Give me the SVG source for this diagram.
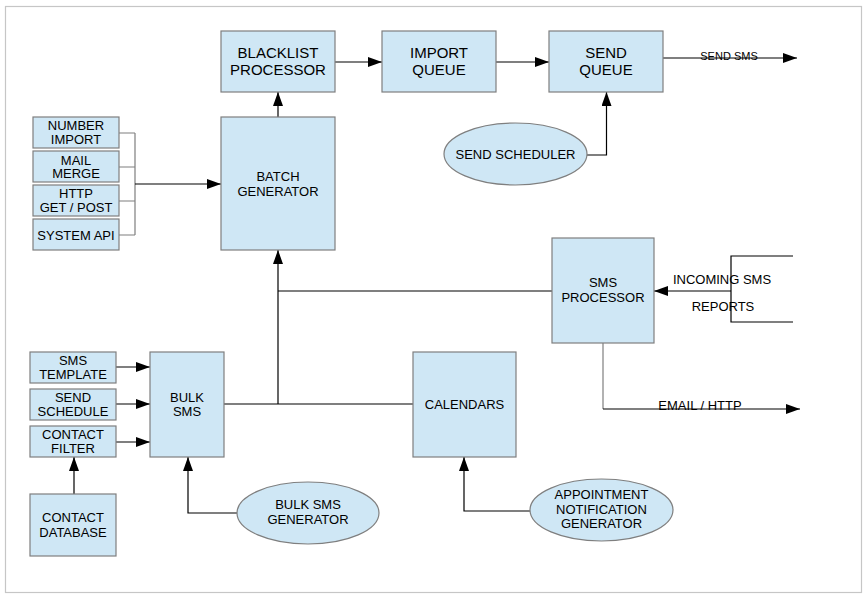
<svg xmlns="http://www.w3.org/2000/svg" width="868" height="600" viewBox="0 0 868 600">
<defs>
<marker id="ah" markerUnits="userSpaceOnUse" markerWidth="14" markerHeight="10" refX="14" refY="5" orient="auto">
<path d="M0,0 L14,5 L0,10 z" fill="#000"/>
</marker>
<style>
.box{fill:#cfe7f5;stroke:#7f7f7f;stroke-width:1.2}
.t{font-family:"Liberation Sans",Arial,sans-serif;fill:#000;text-anchor:middle}
.f15{font-size:15px}
.f13{font-size:13px}
.f11{font-size:11px}
.c{fill:none;stroke:#000;stroke-width:1.2}
.g{fill:none;stroke:#7f7f7f;stroke-width:1.2}
.a{marker-end:url(#ah)}
</style>
</defs>
<rect x="0" y="0" width="868" height="600" fill="#fff"/>
<rect x="5.5" y="6.5" width="856" height="586" fill="none" stroke="#c6c6c6" stroke-width="1.2"/>

<g id="connectors">
<path class="c a" d="M335,62 H382"/>
<path class="c a" d="M496,62 H549"/>
<path class="c a" d="M663,58 H797"/>
<path class="c a" d="M587,155 H606.5 V92"/>
<path class="c a" d="M278,117 V92"/>
<path class="g" d="M119,133 H135 M119,167 H135 M119,201 H135 M119,235 H135 M135,133 V235"/>
<path class="c a" d="M135,184 H221"/>
<path class="c a" d="M116,367 H150"/>
<path class="c a" d="M116,404 H150"/>
<path class="c a" d="M116,442 H150"/>
<path class="c a" d="M74,494 V457"/>
<path class="c a" d="M237,513 H188 V457"/>
<path class="c" d="M224,404 H413"/>
<path class="c a" d="M278,404 V250"/>
<path class="c" d="M278,291 H552"/>
<path class="c a" d="M530,511 H464 V457"/>
<path class="c" d="M793,256 H731 V322 H793"/>
<path class="c a" d="M731,291 H654"/>
<path class="g" d="M603,343 V409"/>
<path class="c a" d="M603,409 H800"/>
<text class="t f11" x="729" y="60">SEND SMS</text>
<text class="t f13" x="722" y="284">INCOMING SMS</text>
<text class="t f13" x="723" y="311">REPORTS</text>
<text class="t f13" x="700" y="410">EMAIL / HTTP</text>
</g>

<g id="blacklist-processor">
<rect class="box" x="221" y="31" width="114" height="61"/>
<text class="t f15" x="278" y="58">BLACKLIST</text>
<text class="t f15" x="278" y="75">PROCESSOR</text>
</g>
<g id="import-queue">
<rect class="box" x="382" y="31" width="114" height="61"/>
<text class="t f15" x="439" y="58">IMPORT</text>
<text class="t f15" x="439" y="75">QUEUE</text>
</g>
<g id="send-queue">
<rect class="box" x="549" y="31" width="114" height="61"/>
<text class="t f15" x="606" y="58">SEND</text>
<text class="t f15" x="606" y="75">QUEUE</text>
</g>
<g id="send-scheduler">
<ellipse class="box" cx="515.5" cy="154" rx="71.5" ry="31"/>
<text class="t f13" x="515.5" y="158.5">SEND SCHEDULER</text>
</g>
<g id="batch-generator">
<rect class="box" x="221" y="117" width="114" height="133"/>
<text class="t f13" x="278" y="180.5">BATCH</text>
<text class="t f13" x="278" y="195.5">GENERATOR</text>
</g>
<g id="number-import">
<rect class="box" x="33" y="117" width="86" height="31"/>
<text class="t f13" x="76" y="130">NUMBER</text>
<text class="t f13" x="76" y="143.5">IMPORT</text>
</g>
<g id="mail-merge">
<rect class="box" x="33" y="151" width="86" height="31"/>
<text class="t f13" x="76" y="164.5">MAIL</text>
<text class="t f13" x="76" y="178">MERGE</text>
</g>
<g id="http-get-post">
<rect class="box" x="33" y="185" width="86" height="31"/>
<text class="t f13" x="76" y="198">HTTP</text>
<text class="t f13" x="76" y="212">GET / POST</text>
</g>
<g id="system-api">
<rect class="box" x="33" y="219" width="86" height="31"/>
<text class="t f13" x="76" y="239.5">SYSTEM API</text>
</g>
<g id="sms-processor">
<rect class="box" x="552" y="238" width="102" height="105"/>
<text class="t f13" x="603" y="287">SMS</text>
<text class="t f13" x="603" y="302">PROCESSOR</text>
</g>
<g id="sms-template">
<rect class="box" x="30" y="352" width="86" height="31"/>
<text class="t f13" x="73" y="364.5">SMS</text>
<text class="t f13" x="73" y="378.5">TEMPLATE</text>
</g>
<g id="send-schedule">
<rect class="box" x="30" y="389" width="86" height="31"/>
<text class="t f13" x="73" y="402">SEND</text>
<text class="t f13" x="73" y="416">SCHEDULE</text>
</g>
<g id="contact-filter">
<rect class="box" x="30" y="426" width="86" height="31"/>
<text class="t f13" x="73" y="439">CONTACT</text>
<text class="t f13" x="73" y="453">FILTER</text>
</g>
<g id="bulk-sms">
<rect class="box" x="150" y="352" width="74" height="105"/>
<text class="t f13" x="187" y="402">BULK</text>
<text class="t f13" x="187" y="416">SMS</text>
</g>
<g id="contact-database">
<rect class="box" x="30" y="494" width="86" height="62"/>
<text class="t f13" x="73" y="522">CONTACT</text>
<text class="t f13" x="73" y="537">DATABASE</text>
</g>
<g id="bulk-sms-generator">
<ellipse class="box" cx="308" cy="513" rx="71" ry="31"/>
<text class="t f13" x="308" y="509">BULK SMS</text>
<text class="t f13" x="308" y="524">GENERATOR</text>
</g>
<g id="calendars">
<rect class="box" x="413" y="352" width="103" height="105"/>
<text class="t f13" x="464.5" y="408.5">CALENDARS</text>
</g>
<g id="appointment-notification-generator">
<ellipse class="box" cx="601.5" cy="510" rx="71.5" ry="31"/>
<text class="t f13" x="601.5" y="498.5">APPOINTMENT</text>
<text class="t f13" x="601.5" y="513.5">NOTIFICATION</text>
<text class="t f13" x="601.5" y="528">GENERATOR</text>
</g>
</svg>
